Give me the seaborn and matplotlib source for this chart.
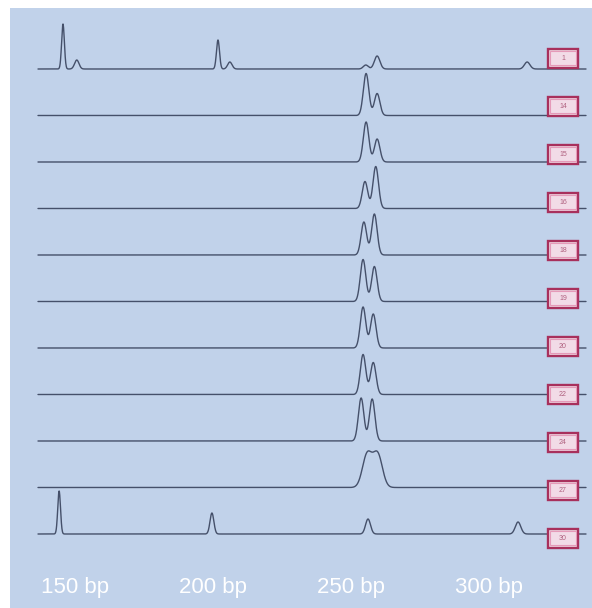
import numpy as np
import pandas as pd
import matplotlib
matplotlib.use("Agg")
import matplotlib.pyplot as plt
from matplotlib.patches import Rectangle
import seaborn as sns

# ---------------- data ----------------
samples = ["1", "14", "15", "16", "18", "19", "20", "22", "24", "27", "30"]
tick_bp = [150, 200, 250, 300]
tick_labels = ["150 bp", "200 bp", "250 bp", "300 bp"]

# peak positions (bp) per sample
peak_pos = [
    [145.5, 150.5, 201.7, 206.0, 255.3, 259.4, 313.8],
    [255.4, 259.4],
    [255.4, 259.4],
    [255.0, 258.9],
    [254.6, 258.4],
    [254.3, 258.4],
    [254.3, 258.0],
    [254.3, 258.0],
    [253.6, 257.6],
    [255.8, 259.6],
    [144.1, 199.5, 256.1, 310.5],
]
# peak heights (signal units)
peak_height = [
    [45, 9, 29, 7, 4, 13, 7],
    [42, 22],
    [40, 23],
    [27, 42],
    [33, 41],
    [42, 35],
    [41, 34],
    [40, 32],
    [43, 42],
    [33, 33],
    [43, 21, 15, 12],
]
# peak widths (sigma, bp)
peak_sigma = [
    [0.5, 0.8, 0.55, 0.8, 0.9, 1.0, 1.0],
    [1.0, 1.0],
    [1.0, 1.0],
    [1.0, 1.0],
    [1.0, 1.0],
    [1.0, 1.0],
    [1.0, 1.0],
    [1.0, 1.0],
    [1.0, 1.0],
    [1.7, 1.7],
    [0.5, 0.7, 0.9, 1.0],
]

# ---------------- layout constants ----------------
W, H = 592, 608
px0 = -338.3  # x pixel = px0 + 2.758*bp
row_top = 69.0
row_step = 46.5
box_top = 58.0
box_step = 48.0

BG = "#c1d2ea"
LINE = "#45506a"

def px_to_bp(px):
    return (px - px0) / 2.758

# build long dataframe of traces
x = np.linspace(px_to_bp(38), px_to_bp(586), 3000)
rows = []
for i, s in enumerate(samples):
    base = -(row_top + row_step * i)
    y = np.full_like(x, base)
    for p, h, sg in zip(peak_pos[i], peak_height[i], peak_sigma[i]):
        y = y + h * np.exp(-0.5 * ((x - p) / sg) ** 2)
    rows.append(pd.DataFrame({"bp": x, "signal": y, "sample": s}))
df = pd.concat(rows, ignore_index=True)

sns.set_theme(style="white")
plt.rcParams["font.family"] = ["Liberation Sans", "DejaVu Sans"]

fig = plt.figure(figsize=(W / 100, H / 100), dpi=100)
fig.patch.set_facecolor("white")
ax = fig.add_axes([10 / W, 0, (W - 10) / W, (H - 8) / H])
ax.set_facecolor(BG)
ax.set_xlim(px_to_bp(10), px_to_bp(W))
ax.set_ylim(-H, -8)

sns.lineplot(data=df, x="bp", y="signal", units="sample", estimator=None,
             sort=False, color=LINE, linewidth=1.0, legend=False, ax=ax)

# sample label boxes
bw = 30 / 2.758
bh = 19
bx = px_to_bp(563)
for i, s in enumerate(samples):
    cy = -(box_top + box_step * i)
    ax.add_patch(Rectangle((bx - bw / 2, cy - bh / 2), bw, bh,
                           facecolor="#f2dbe7", edgecolor="#a8305c",
                           linewidth=1.7, zorder=5))
    ax.add_patch(Rectangle((bx - bw / 2 + 0.9, cy - bh / 2 + 2.6), bw - 1.8, bh - 5.2,
                           facecolor="none", edgecolor="#e59ab9",
                           linewidth=0.8, zorder=6))
    ax.text(bx, cy, s, ha="center", va="center", fontsize=5,
            color="#b0607f", zorder=7)

# bp labels
for b, lab in zip(tick_bp, tick_labels):
    ax.text(b, -588, lab, ha="center", va="center", fontsize=16,
            color="white")

ax.set_xticks([])
ax.set_yticks([])
ax.set_xlabel("")
ax.set_ylabel("")
for sp in ax.spines.values():
    sp.set_visible(False)

fig.savefig("out.png", dpi=100, facecolor=fig.get_facecolor())
